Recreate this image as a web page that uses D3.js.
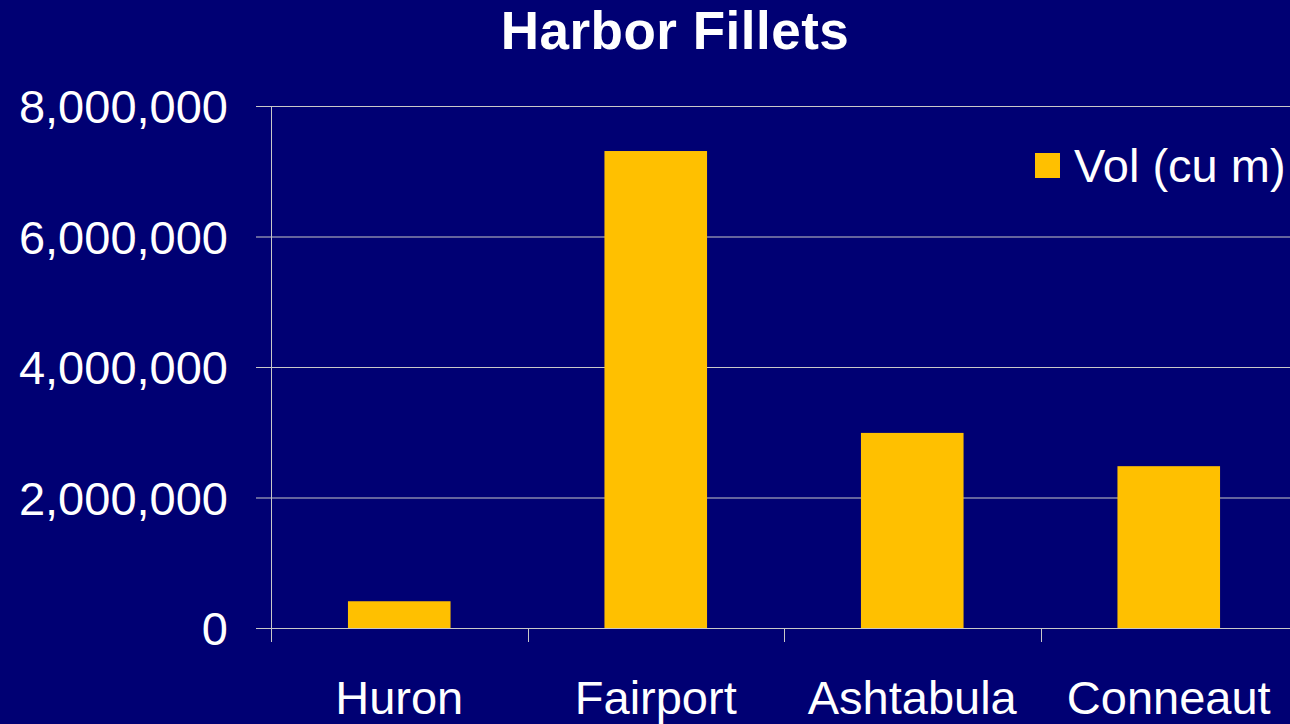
<!DOCTYPE html>
<html>
<head>
<meta charset="utf-8">
<script src="https://cdn.jsdelivr.net/npm/d3@7"></script>
<style>
  html, body { margin: 0; padding: 0; background: #000073; overflow: hidden; }
  text { font-family: "Liberation Sans", Arial, sans-serif; fill: #ffffff; }
</style>
</head>
<body>
<div id="chart"></div>
<script>
// chart data
const harbors = ["Huron", "Fairport", "Ashtabula", "Conneaut"];
const volumes = [410000, 7310000, 2990000, 2480000];
const yTicks = [0, 2000000, 4000000, 6000000, 8000000];
const seriesName = "Vol (cu m)";
const title = "Harbor Fillets";

const width = 1290, height = 724;

const svg = d3.select("#chart").append("svg")
    .attr("width", width)
    .attr("height", height);

svg.append("rect")
    .attr("width", width)
    .attr("height", height)
    .attr("fill", "#000073");

// plot area goes a bit past the right edge, like the source slide
const x = d3.scaleBand()
    .domain(harbors)
    .range([271, 1297])
    .paddingInner(0.6)
    .paddingOuter(0.3);

const y = d3.scaleLinear()
    .domain([0, 8000000])
    .range([628, 106]);

// gridlines + y ticks
svg.append("g")
    .selectAll("line")
    .data(yTicks)
    .enter().append("line")
    .attr("x1", 256)
    .attr("x2", width)
    .attr("y1", d => y(d) + 0.5)
    .attr("y2", d => y(d) + 0.5)
    .attr("stroke", "#c8c8c8")
    .attr("stroke-width", 1);

// y axis line
svg.append("line")
    .attr("x1", 271.5).attr("x2", 271.5)
    .attr("y1", y(8000000)).attr("y2", 642)
    .attr("stroke", "#c8c8c8");

// x tick marks at band edges
const edges = harbors.map(h => x(h) - x.step() * 0.3).concat([x(harbors[3]) + x.step() * 0.7]);
svg.append("g")
    .selectAll("line")
    .data(edges)
    .enter().append("line")
    .attr("x1", d => Math.round(d) + 0.5)
    .attr("x2", d => Math.round(d) + 0.5)
    .attr("y1", y(0))
    .attr("y2", 642)
    .attr("stroke", "#c8c8c8");

// y labels
svg.append("g")
    .selectAll("text")
    .data(yTicks)
    .enter().append("text")
    .attr("x", 228)
    .attr("y", d => y(d) + 17)
    .attr("text-anchor", "end")
    .style("font-size", "47px")
    .text(d => d3.format(",")(d));

// bars
svg.append("g")
    .selectAll("rect")
    .data(volumes)
    .enter().append("rect")
    .attr("x", (d, i) => x(harbors[i]))
    .attr("width", x.bandwidth())
    .attr("y", d => y(d))
    .attr("height", d => y(0) - y(d))
    .attr("fill", "#ffc000");

// redraw baseline over bars
svg.append("line")
    .attr("x1", 256).attr("x2", width)
    .attr("y1", y(0) + 0.5).attr("y2", y(0) + 0.5)
    .attr("stroke", "#c8c8c8");

// x labels
svg.append("g")
    .selectAll("text")
    .data(harbors)
    .enter().append("text")
    .attr("x", d => x(d) + x.bandwidth() / 2)
    .attr("y", 714)
    .attr("text-anchor", "middle")
    .style("font-size", "47px")
    .text(d => d);

// legend
svg.append("rect")
    .attr("x", 1035).attr("y", 153)
    .attr("width", 25).attr("height", 25)
    .attr("fill", "#ffc000");
svg.append("text")
    .attr("x", 1074)
    .attr("y", 182)
    .style("font-size", "47px")
    .text(seriesName);

// title
svg.append("text")
    .attr("x", 675)
    .attr("y", 49)
    .attr("text-anchor", "middle")
    .style("font-size", "53px")
    .style("font-weight", "bold")
    .style("letter-spacing", "0.5px")
    .text(title);
</script>
</body>
</html>
